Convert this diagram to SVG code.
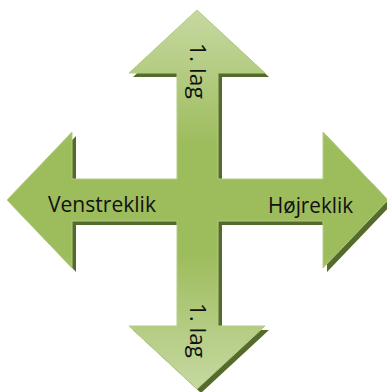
<svg xmlns="http://www.w3.org/2000/svg" width="387" height="392" viewBox="0 0 387 392">
  <style>
    .lbl { font-family: "Open Sans", "Liberation Sans", sans-serif; font-size: 21px; fill: #111; }
  </style>
  <defs>
    <linearGradient id="g" x1="0" y1="0" x2="0" y2="1">
      <stop offset="0" stop-color="#c6d9a1"/>
      <stop offset="0.36" stop-color="#9dbc5c"/>
      <stop offset="0.64" stop-color="#9dbc5c"/>
      <stop offset="1" stop-color="#c6d9a1"/>
    </linearGradient>
    <path id="shape" d="M197,10 L265,73 L218,73 L218,179 L323,179 L323,132 L388,200 L323,268 L323,221 L218,221 L218,326 L265,326 L197,389 L129,326 L177,326 L177,221 L72,221 L72,268 L7,200 L72,132 L72,179 L177,179 L177,73 L129,73 Z"/>
  </defs>
  <g id="arrow">
    <use href="#shape" transform="translate(4,4)" fill="#556b2c"/>
    <use href="#shape" fill="url(#g)" stroke="#b5cd86" stroke-width="1"/>
  </g>
  <g id="labels">
    <text class="lbl" transform="translate(190,43) rotate(90)" textLength="56" lengthAdjust="spacingAndGlyphs">1. lag</text>
    <text class="lbl" transform="translate(190,303) rotate(90)" textLength="55" lengthAdjust="spacingAndGlyphs">1. lag</text>
    <text class="lbl" x="48" y="212" textLength="108" lengthAdjust="spacingAndGlyphs">Venstreklik</text>
    <text class="lbl" x="268" y="213" textLength="85" lengthAdjust="spacingAndGlyphs">Højreklik</text>
  </g>
</svg>
